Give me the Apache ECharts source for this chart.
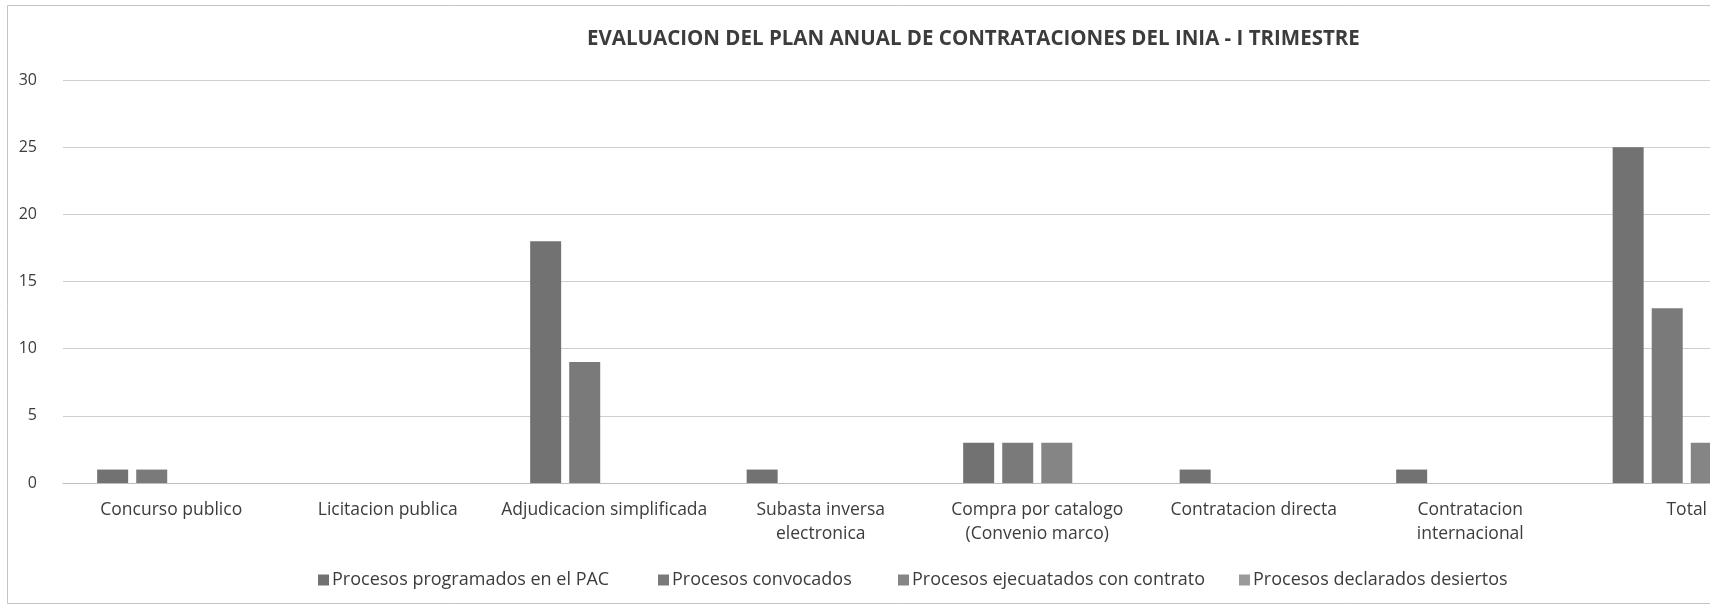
<!DOCTYPE html>
<html>
<head>
<meta charset="utf-8">
<script src="https://cdn.jsdelivr.net/npm/echarts@6/dist/echarts.min.js"></script>
<style>
html,body{margin:0;padding:0;background:#fff;overflow:hidden;width:1710px;height:612px;}
#chart{width:1795px;height:612px;}
</style>
</head>
<body>
<div id="chart"></div>
<script>
const titleText = 'EVALUACION DEL PLAN ANUAL DE CONTRATACIONES DEL INIA - I TRIMESTRE';
const categories = [
  'Concurso publico',
  'Licitacion publica',
  'Adjudicacion simplificada',
  'Subasta inversa\nelectronica',
  'Compra por catalogo\n(Convenio marco)',
  'Contratacion directa',
  'Contratacion\ninternacional',
  'Total'
];
const seriesNames = [
  'Procesos programados en el PAC',
  'Procesos convocados',
  'Procesos ejecuatados con contrato',
  'Procesos declarados desiertos'
];
const programados = [1, 0, 18, 1, 3, 1, 1, 25];
const convocados  = [1, 0, 9, 0, 3, 0, 0, 13];
const ejecutados  = [0, 0, 0, 0, 3, 0, 0, 3];
const desiertos   = [0, 0, 0, 0, 0, 0, 0, 0];
const yTicks = [0, 5, 10, 15, 20, 25, 30];

const seriesData = [programados, convocados, ejecutados, desiertos];
const colors = ['#727272', '#7a7a7a', '#858585', '#9a9a9a'];
const legendLefts = [318, 658, 898, 1239];
const textColor = '#3c3c3c';
const font = "'Open Sans', sans-serif";

const chart = echarts.init(document.getElementById('chart'), null, {renderer: 'canvas'});
chart.setOption({
  animation: false,
  backgroundColor: '#ffffff',
  title: {
    text: titleText,
    left: 582,
    top: 24,
    textStyle: {fontFamily: font, fontSize: 20.5, fontWeight: 'bold', color: textColor}
  },
  legend: seriesNames.map((name, i) => ({
    data: [name],
    left: legendLefts[i],
    top: 571,
    padding: 0,
    icon: 'rect',
    itemWidth: 11,
    itemHeight: 11,
    textStyle: {fontFamily: font, fontSize: 18, color: textColor, padding: [0, 0, 0, -2]}
  })),
  grid: {left: 63, right: 0, top: 80, bottom: 129, containLabel: false},
  xAxis: {
    type: 'category',
    data: categories,
    axisTick: {show: false},
    axisLine: {lineStyle: {color: '#bdbdbd', width: 1}},
    axisLabel: {
      interval: 0,
      margin: 15,
      fontFamily: font,
      fontSize: 17.5,
      color: textColor,
      lineHeight: 24
    }
  },
  yAxis: {
    type: 'value',
    min: 0,
    max: 30,
    interval: 5,
    axisLine: {show: false},
    axisTick: {show: false},
    splitLine: {lineStyle: {color: '#cfcfcf', width: 1}},
    axisLabel: {
      margin: 26,
      fontFamily: font,
      fontSize: 16,
      color: textColor,
      formatter: v => yTicks.includes(v) ? String(v) : ''
    }
  },
  graphic: [{
    type: 'rect',
    shape: {x: 7.5, y: 5.5, width: 1800, height: 598},
    style: {fill: 'none', stroke: '#c4c4c4', lineWidth: 1},
    silent: true,
    z: -1
  }],
  series: seriesNames.map((name, i) => ({
    name: name,
    type: 'bar',
    data: seriesData[i],
    barWidth: 31,
    barGap: '26%',
    itemStyle: {color: colors[i]}
  }))
});
</script>
</body>
</html>
